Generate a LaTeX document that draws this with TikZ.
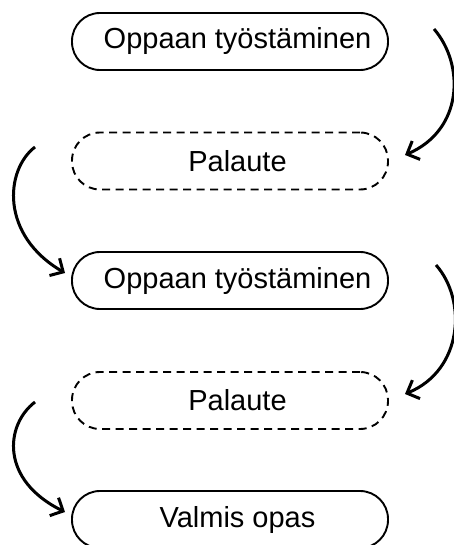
\documentclass[tikz,border=0pt]{standalone}
\usepackage{fontspec}
\setmainfont{Liberation Sans}
\usetikzlibrary{arrows.meta}
\begin{document}
\begin{tikzpicture}[x=1pt,y=-1pt,
  box/.style={draw=black, line width=1.9pt, rounded corners=28pt,
    minimum width=316pt, minimum height=57pt, inner sep=0pt,
    font=\fontsize{29}{34}\selectfont, fill=white},
  dbox/.style={box, dash pattern=on 8pt off 5.5pt},
  flow/.style={line width=3pt, -{Straight Barb[length=10pt,width=20pt,line width=3pt]}}]
\clip (0,0) rectangle (454,545);
\fill[white] (0,0) rectangle (454,545);
\node[box]  (b1) at (230,41.5)  {\hspace*{15pt}Oppaan työstäminen};
\node[dbox] (b2) at (230,161)   {\hspace*{15pt}Palaute};
\node[box]  (b3) at (230,280.5) {\hspace*{15pt}Oppaan työstäminen};
\node[dbox] (b4) at (230,400.5) {\hspace*{15pt}Palaute};
\node[box]  (b5) at (230,519.5) {\hspace*{15pt}Valmis opas};
\coordinate (r1s) at (434,29);
\coordinate (r1e) at (405,155);
\coordinate (l1s) at (35,147);
\coordinate (l1e) at (65,273);
\coordinate (r2s) at (436,265);
\coordinate (r2e) at (405,394);
\coordinate (l2s) at (35,402);
\coordinate (l2e) at (65,512);
\draw[flow] (r1s) .. controls (465,65) and (463,130) .. (r1e);
\draw[flow] (l1s) .. controls (5,170) and (0,235) .. (l1e);
\draw[flow] (r2s) .. controls (467,300) and (463,370) .. (r2e);
\draw[flow] (l2s) .. controls (5,425) and (0,480) .. (l2e);
\end{tikzpicture}
\end{document}
